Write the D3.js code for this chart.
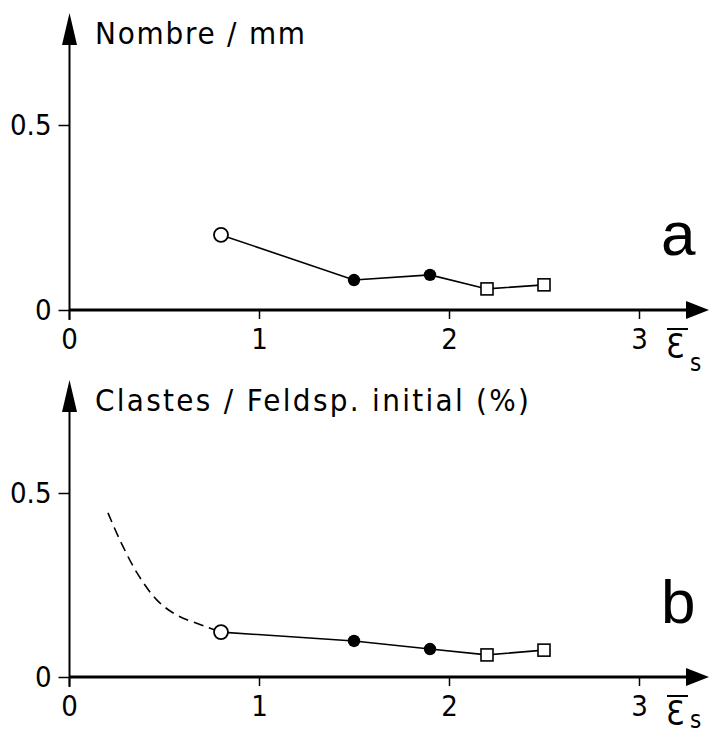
<!DOCTYPE html>
<html>
<head>
<meta charset="utf-8">
<script src="https://cdn.jsdelivr.net/npm/d3@7"></script>
<style>
  html, body { margin: 0; padding: 0; background: #fff; }
  svg { display: block; }
  text { font-family: "Liberation Sans Narrow", "DejaVu Sans Condensed", "Liberation Sans", Arial, sans-serif; fill: #000; }
</style>
</head>
<body>
<svg id="chart" width="709" height="737"></svg>
<script>
// ---- data ----
const strainX = [0.8, 1.5, 1.9, 2.2, 2.5];
const markerTypes = ["openCircle", "filledCircle", "filledCircle", "openSquare", "openSquare"];
const nombreParMm = [0.203, 0.081, 0.095, 0.057, 0.068];
const clastesPct = [0.122, 0.098, 0.076, 0.060, 0.073];
const dashedX = [0.205, 0.268, 0.358, 0.463, 0.568, 0.726, 0.8];
const dashedY = [0.446, 0.372, 0.283, 0.209, 0.168, 0.136, 0.122];
const xTicks = [0, 1, 2, 3];
const yTicks = [0, 0.5];
const yTickLabels = ["0", "0.5"];
const panelTitles = ["Nombre / mm", "Clastes / Feldsp. initial (%)"];
const panelLetters = ["a", "b"];

const FONT = '"Liberation Sans Narrow", "DejaVu Sans Condensed", "Liberation Sans", Arial, sans-serif';
const svg = d3.select("#chart");

const x = d3.scaleLinear().domain([0, 3]).range([69, 639]);

const panels = [
  { y0: 310, y05: 125, values: nombreParMm, title: panelTitles[0], letter: panelLetters[0], titleLen: 210, dashed: false, sBase: 371 },
  { y0: 677, y05: 493, values: clastesPct, title: panelTitles[1], letter: panelLetters[1], titleLen: 434, dashed: true, sBase: 728 }
];

panels.forEach((p) => {
  const off = p.y0 - 310;
  const y = d3.scaleLinear().domain([0, 0.5]).range([p.y0, p.y05]);
  const g = svg.append("g");

  // y axis line + arrow
  g.append("line").attr("x1", 69.5).attr("x2", 69.5).attr("y1", p.y0 + 10).attr("y2", 44 + off)
    .attr("stroke", "#000").attr("stroke-width", 2);
  g.append("path").attr("d", `M69.5,${13 + off} L62,${45 + off} L77,${45 + off} Z`).attr("fill", "#000");

  // x axis line + arrow
  g.append("line").attr("x1", 69).attr("x2", 690).attr("y1", p.y0).attr("y2", p.y0)
    .attr("stroke", "#000").attr("stroke-width", 3);
  g.append("path").attr("d", `M709,${p.y0} L686,${p.y0 - 9} L686,${p.y0 + 9} Z`).attr("fill", "#000");

  // y ticks
  const ya = d3.axisLeft(y).tickValues(yTicks).tickSize(11).tickPadding(7)
    .tickFormat((d, i) => yTickLabels[i]);
  const yg = g.append("g").attr("transform", "translate(69.5,0)").call(ya);
  yg.select(".domain").remove();
  yg.selectAll(".tick line").attr("stroke", "#000").attr("stroke-width", 1.5);
  yg.selectAll(".tick text").attr("font-size", 29).style("font-family", FONT).attr("fill", "#000");

  // x ticks
  const xa = d3.axisBottom(x).tickValues(xTicks).tickSize(9).tickPadding(9).tickFormat(d3.format("d"));
  const xg = g.append("g").attr("transform", `translate(0,${p.y0})`).call(xa);
  xg.select(".domain").remove();
  xg.selectAll(".tick line").attr("stroke", "#000").attr("stroke-width", 1.5);
  xg.selectAll(".tick text").attr("font-size", 29).style("font-family", FONT).attr("fill", "#000");

  // x label: epsilon bar s
  g.append("text").attr("x", 666).attr("y", 358 + off).attr("font-size", 33).text("\u0190");
  g.append("line").attr("x1", 667).attr("x2", 688).attr("y1", 329 + off).attr("y2", 329 + off)
    .attr("stroke", "#000").attr("stroke-width", 2);
  g.append("text").attr("x", 690).attr("y", p.sBase).attr("font-size", 24).text("s");

  // title
  g.append("text").attr("x", 95).attr("y", 44 + off).attr("font-size", 31)
    .attr("textLength", p.titleLen).attr("lengthAdjust", "spacing").text(p.title);

  // panel letter
  g.append("text").attr("x", 661).attr("y", p.dashed ? 623 : 255).attr("font-size", 62)
    .style("font-family", "'Liberation Sans', Arial, sans-serif").text(p.letter);

  // dashed curve
  if (p.dashed) {
    const dl = d3.line().x((d) => x(d[0])).y((d) => y(d[1])).curve(d3.curveCatmullRom);
    g.append("path").datum(dashedX.map((v, i) => [v, dashedY[i]]))
      .attr("d", dl).attr("fill", "none").attr("stroke", "#000").attr("stroke-width", 1.6)
      .attr("stroke-dasharray", "10,6");
  }

  // solid connecting line
  const line = d3.line().x((d) => x(d[0])).y((d) => y(d[1]));
  g.append("path").datum(strainX.map((v, i) => [v, p.values[i]]))
    .attr("d", line).attr("fill", "none").attr("stroke", "#000").attr("stroke-width", 1.6);

  // markers
  strainX.forEach((v, i) => {
    const cx = x(v), cy = y(p.values[i]);
    const t = markerTypes[i];
    if (t === "openCircle") {
      g.append("circle").attr("cx", cx).attr("cy", cy).attr("r", 7)
        .attr("fill", "#fff").attr("stroke", "#000").attr("stroke-width", 1.8);
    } else if (t === "filledCircle") {
      g.append("circle").attr("cx", cx).attr("cy", cy).attr("r", 6.2).attr("fill", "#000");
    } else {
      g.append("rect").attr("x", cx - 6).attr("y", cy - 6).attr("width", 12).attr("height", 12)
        .attr("fill", "#fff").attr("stroke", "#000").attr("stroke-width", 1.6);
    }
  });
});
</script>
</body>
</html>
